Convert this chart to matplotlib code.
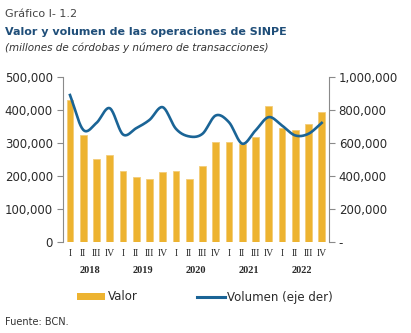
import numpy as np
import matplotlib
matplotlib.use('Agg')
import matplotlib.pyplot as plt
from matplotlib.lines import Line2D
from matplotlib.patches import Patch
from matplotlib.ticker import FuncFormatter, MultipleLocator
import matplotlib.transforms as mtransforms

# ---------------- data ----------------
quarters = ['I', 'II', 'III', 'IV'] * 5
years = ['2018', '2019', '2020', '2021', '2022']
valor = [428000, 324000, 250000, 262000, 215000, 195000, 191000, 212000, 215000, 191000,
         228000, 301000, 301000, 297000, 318000, 411000, 344000, 338000, 358000, 394000]
volumen = [889000, 678000, 720000, 809000, 650000, 688000, 738000, 815000, 684000, 638000,
           654000, 765000, 724000, 594000, 674000, 755000, 704000, 644000, 654000, 720000]

bar_col = '#EDB330'
line_col = '#1A6496'
txt_col = '#2a2a2a'

def smooth(x, y, n=20):
    # catmull-rom curve through the points (like a smoothed Excel line)
    x = np.asarray(x, float); y = np.asarray(y, float)
    px = np.concatenate([[2*x[0]-x[1]], x, [2*x[-1]-x[-2]]])
    py = np.concatenate([[2*y[0]-y[1]], y, [2*y[-1]-y[-2]]])
    xs, ys = [], []
    t = np.linspace(0, 1, n, endpoint=False)
    for i in range(1, len(px)-2):
        for p, out in ((px, xs), (py, ys)):
            p0, p1, p2, p3 = p[i-1], p[i], p[i+1], p[i+2]
            out.extend(0.5*((2*p1) + (-p0+p2)*t + (2*p0-5*p1+4*p2-p3)*t**2
                            + (-p0+3*p1-3*p2+p3)*t**3))
    xs.append(x[-1]); ys.append(y[-1])
    return np.array(xs), np.array(ys)

fig = plt.figure(figsize=(4.11, 3.33), dpi=100)
ax = fig.add_axes([62.7/411, (333-241.7)/333, (329-62.7)/411, (241.7-76.7)/333])

x = np.arange(len(valor))
ax.bar(x, valor, width=0.5, color=bar_col, edgecolor='#F3CD7A', linewidth=0.6, zorder=2)
ax.set_xlim(-0.55, 19.55)
ax.set_ylim(0, 500000)
ax.yaxis.set_major_locator(MultipleLocator(100000))
ax.yaxis.set_major_formatter(FuncFormatter(lambda v, p: '{:,.0f}'.format(v)))

ax2 = ax.twinx()
sx, sy = smooth(x, volumen)
ax2.plot(sx, sy, color=line_col, lw=1.9, zorder=3)
ax2.set_ylim(0, 1000000)
ax2.yaxis.set_major_locator(MultipleLocator(200000))
ax2.yaxis.set_major_formatter(FuncFormatter(lambda v, p: '-' if v == 0 else '{:,.0f}'.format(v)))

for a in (ax, ax2):
    for s in ('top', 'bottom'):
        a.spines[s].set_visible(False)
    a.spines['left'].set_color('#8a8a8a')
    a.spines['right'].set_color('#8a8a8a')
    a.tick_params(axis='y', colors='#8a8a8a', labelcolor=txt_col, labelsize=8.5,
                  length=4, width=0.8, pad=3)
ax.spines['right'].set_visible(False)
ax2.spines['left'].set_visible(False)

ax.set_xticks(x)
ax.set_xticklabels(quarters, family='Liberation Serif', fontsize=7, color=txt_col)
ax.tick_params(axis='x', length=0, pad=5)

trans = mtransforms.blended_transform_factory(ax.transData, ax.transAxes)
for i, yr in enumerate(years):
    ax.text(4*i + 1.5, -0.175, yr, transform=trans, ha='center', va='center',
            family='Liberation Serif', fontsize=7.5, fontweight='bold', color=txt_col)

# titles
fig.text(5/411, 1 - 14/333, 'Gráfico I- 1.2', fontsize=8, color='#444444', va='center')
fig.text(5/411, 1 - 32/333, 'Valor y volumen de las operaciones de SINPE', fontsize=8.0,
         fontweight='bold', color='#1F4E79', va='center')
fig.text(5/411, 1 - 48/333, '(millones de córdobas y número de transacciones)', fontsize=7.5,
         style='italic', color='#333333', va='center')
fig.text(5/411, 1 - 322/333, 'Fuente: BCN.', fontsize=7, color='#333333', va='center')

handles = [Patch(facecolor=bar_col, edgecolor='none'), Line2D([], [], color=line_col, lw=2.2)]
fig.legend(handles, ['Valor', 'Volumen (eje der)'], loc='center', ncol=2,
           bbox_to_anchor=(205/411, 1 - 297/333), frameon=False, fontsize=8.5,
           handlelength=2.4, handleheight=0.6, handletextpad=0.2, columnspacing=5.0,
           labelcolor=txt_col)

plt.savefig('out.png', dpi=100)
plt.close()
